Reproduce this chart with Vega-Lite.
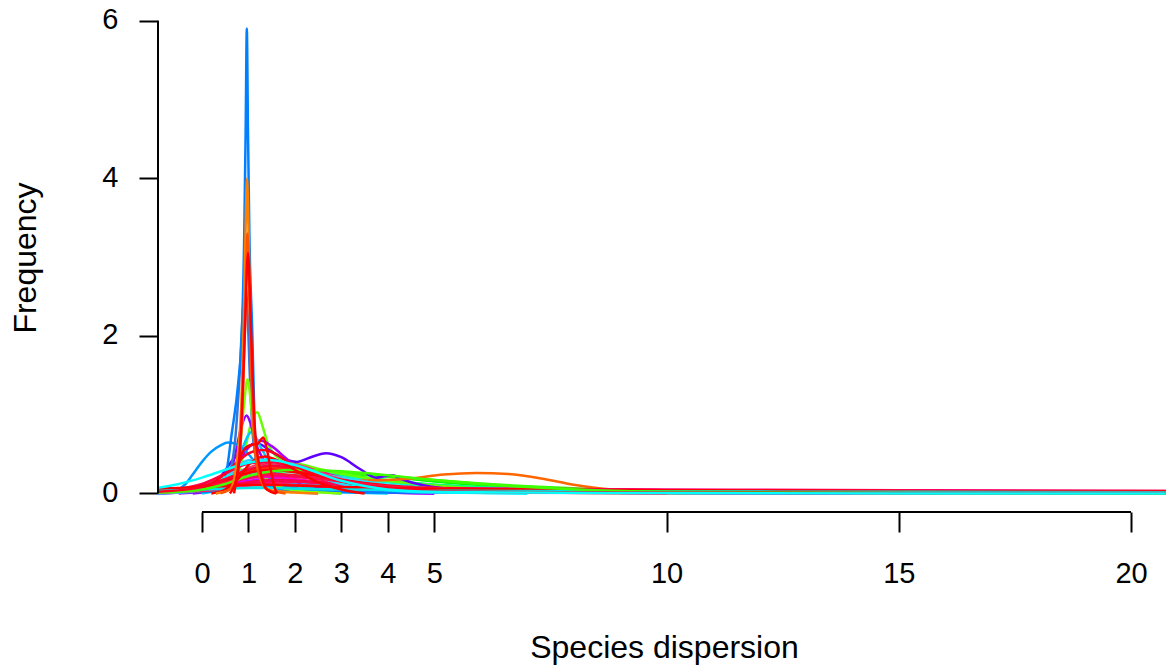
{
"$schema": "https://vega.github.io/schema/vega-lite/v6.json",
"width": 1008, "height": 502,
"autosize": {"type": "none"},
"padding": {"left": 158, "top": 10, "right": 0, "bottom": 156},
"background": "white",
"config": {"view": {"stroke": null}, "font": "Liberation Sans"},
"layer": [
{
"data": {"values": [
{"id":"s01","x":-0.95,"y":0.02},{"id":"s01","x":-0.5,"y":0.05},{"id":"s01","x":0,"y":0.1},{"id":"s01","x":0.5,"y":0.17},{"id":"s01","x":1,"y":0.26},{"id":"s01","x":1.5,"y":0.3},{"id":"s01","x":2,"y":0.3},{"id":"s01","x":3,"y":0.26},{"id":"s01","x":4,"y":0.21},{"id":"s01","x":5,"y":0.15},{"id":"s01","x":7,"y":0.07},{"id":"s01","x":10,"y":0.02},{"id":"s01","x":15,"y":0.005},{"id":"s01","x":20.75,"y":0},
{"id":"s02","x":-0.95,"y":0.01},{"id":"s02","x":-0.5,"y":0.03},{"id":"s02","x":0,"y":0.07},{"id":"s02","x":0.5,"y":0.14},{"id":"s02","x":1,"y":0.22},{"id":"s02","x":1.5,"y":0.27},{"id":"s02","x":2,"y":0.28},{"id":"s02","x":3,"y":0.26},{"id":"s02","x":4,"y":0.22},{"id":"s02","x":5,"y":0.17},{"id":"s02","x":7,"y":0.09},{"id":"s02","x":10,"y":0.03},{"id":"s02","x":15,"y":0.01},{"id":"s02","x":20.75,"y":0},
{"id":"s03","x":-0.95,"y":0.03},{"id":"s03","x":-0.5,"y":0.05},{"id":"s03","x":0,"y":0.09},{"id":"s03","x":0.5,"y":0.15},{"id":"s03","x":1,"y":0.21},{"id":"s03","x":1.5,"y":0.24},{"id":"s03","x":2,"y":0.23},{"id":"s03","x":3,"y":0.19},{"id":"s03","x":4,"y":0.15},{"id":"s03","x":5,"y":0.11},{"id":"s03","x":7,"y":0.06},{"id":"s03","x":10,"y":0.03},{"id":"s03","x":15,"y":0.01},{"id":"s03","x":20.75,"y":0.005},
{"id":"s04","x":-0.95,"y":0.01},{"id":"s04","x":-0.5,"y":0.02},{"id":"s04","x":0,"y":0.04},{"id":"s04","x":0.5,"y":0.07},{"id":"s04","x":1,"y":0.11},{"id":"s04","x":1.5,"y":0.13},{"id":"s04","x":2,"y":0.12},{"id":"s04","x":3,"y":0.09},{"id":"s04","x":4,"y":0.07},{"id":"s04","x":5,"y":0.05},{"id":"s04","x":7,"y":0.03},{"id":"s04","x":10,"y":0.02},{"id":"s04","x":15,"y":0.01},{"id":"s04","x":20.75,"y":0.01},
{"id":"s05","x":-0.95,"y":0.01},{"id":"s05","x":-0.5,"y":0.02},{"id":"s05","x":0,"y":0.05},{"id":"s05","x":0.5,"y":0.12},{"id":"s05","x":1,"y":0.2},{"id":"s05","x":1.5,"y":0.23},{"id":"s05","x":2,"y":0.2},{"id":"s05","x":3,"y":0.12},{"id":"s05","x":4,"y":0.06},{"id":"s05","x":5,"y":0.03},{"id":"s05","x":7,"y":0.01},{"id":"s05","x":10,"y":0},{"id":"s05","x":15,"y":0},{"id":"s05","x":20.75,"y":0},
{"id":"s06","x":-0.95,"y":0.01},{"id":"s06","x":-0.5,"y":0.02},{"id":"s06","x":0,"y":0.04},{"id":"s06","x":0.5,"y":0.09},{"id":"s06","x":1,"y":0.16},{"id":"s06","x":1.5,"y":0.19},{"id":"s06","x":2,"y":0.17},{"id":"s06","x":3,"y":0.11},{"id":"s06","x":4,"y":0.07},{"id":"s06","x":5,"y":0.04},{"id":"s06","x":7,"y":0.02},{"id":"s06","x":10,"y":0.01},{"id":"s06","x":15,"y":0},{"id":"s06","x":20.75,"y":0},
{"id":"s07","x":-0.95,"y":0},{"id":"s07","x":-0.5,"y":0.01},{"id":"s07","x":0,"y":0.03},{"id":"s07","x":0.5,"y":0.07},{"id":"s07","x":1,"y":0.12},{"id":"s07","x":1.5,"y":0.14},{"id":"s07","x":2,"y":0.13},{"id":"s07","x":3,"y":0.1},{"id":"s07","x":4,"y":0.07},{"id":"s07","x":5,"y":0.05},{"id":"s07","x":7,"y":0.04},{"id":"s07","x":10,"y":0.03},{"id":"s07","x":15,"y":0.02},{"id":"s07","x":20.75,"y":0.01},
{"id":"s08","x":-0.95,"y":0.01},{"id":"s08","x":-0.5,"y":0.02},{"id":"s08","x":0,"y":0.05},{"id":"s08","x":0.5,"y":0.1},{"id":"s08","x":1,"y":0.16},{"id":"s08","x":1.5,"y":0.18},{"id":"s08","x":2,"y":0.16},{"id":"s08","x":3,"y":0.1},{"id":"s08","x":4,"y":0.06},{"id":"s08","x":5,"y":0.05},{"id":"s08","x":7,"y":0.04},{"id":"s08","x":10,"y":0.03},{"id":"s08","x":15,"y":0.01},{"id":"s08","x":20.75,"y":0.005},
{"id":"s09","x":-0.95,"y":0.01},{"id":"s09","x":-0.5,"y":0.02},{"id":"s09","x":0,"y":0.04},{"id":"s09","x":0.5,"y":0.08},{"id":"s09","x":1,"y":0.13},{"id":"s09","x":1.5,"y":0.15},{"id":"s09","x":2,"y":0.14},{"id":"s09","x":3,"y":0.1},{"id":"s09","x":4,"y":0.07},{"id":"s09","x":5,"y":0.05},{"id":"s09","x":7,"y":0.04},{"id":"s09","x":10,"y":0.03},{"id":"s09","x":15,"y":0.02},{"id":"s09","x":20.75,"y":0.01},
{"id":"s10","x":-0.95,"y":0.03},{"id":"s10","x":-0.5,"y":0.05},{"id":"s10","x":0,"y":0.1},{"id":"s10","x":0.5,"y":0.2},{"id":"s10","x":1,"y":0.32},{"id":"s10","x":1.5,"y":0.36},{"id":"s10","x":2,"y":0.33},{"id":"s10","x":3,"y":0.22},{"id":"s10","x":4,"y":0.14},{"id":"s10","x":5,"y":0.08},{"id":"s10","x":7,"y":0.03},{"id":"s10","x":10,"y":0.015},{"id":"s10","x":15,"y":0.01},{"id":"s10","x":20.75,"y":0.005},
{"id":"s10a","x":-0.95,"y":0.02},{"id":"s10a","x":-0.5,"y":0.04},{"id":"s10a","x":0,"y":0.08},{"id":"s10a","x":0.5,"y":0.17},{"id":"s10a","x":1,"y":0.28},{"id":"s10a","x":1.5,"y":0.33},{"id":"s10a","x":2,"y":0.31},{"id":"s10a","x":3,"y":0.24},{"id":"s10a","x":4,"y":0.17},{"id":"s10a","x":5,"y":0.11},{"id":"s10a","x":7,"y":0.05},{"id":"s10a","x":10,"y":0.02},{"id":"s10a","x":15,"y":0.01},{"id":"s10a","x":20.75,"y":0},
{"id":"s11","x":-0.95,"y":0.01},{"id":"s11","x":-0.5,"y":0.02},{"id":"s11","x":0,"y":0.04},{"id":"s11","x":0.5,"y":0.07},{"id":"s11","x":1,"y":0.1},{"id":"s11","x":1.5,"y":0.1},{"id":"s11","x":2,"y":0.09},{"id":"s11","x":3,"y":0.06},{"id":"s11","x":4,"y":0.04},{"id":"s11","x":5,"y":0.03},{"id":"s11","x":7,"y":0.025},{"id":"s11","x":10,"y":0.02},{"id":"s11","x":15,"y":0.015},{"id":"s11","x":20.75,"y":0.01},
{"id":"s11a","x":-0.95,"y":0.03},{"id":"s11a","x":-0.5,"y":0.05},{"id":"s11a","x":0,"y":0.09},{"id":"s11a","x":0.5,"y":0.16},{"id":"s11a","x":1,"y":0.25},{"id":"s11a","x":1.5,"y":0.29},{"id":"s11a","x":2,"y":0.27},{"id":"s11a","x":3,"y":0.17},{"id":"s11a","x":4,"y":0.09},{"id":"s11a","x":5,"y":0.05},{"id":"s11a","x":7,"y":0.02},{"id":"s11a","x":10,"y":0.01},{"id":"s11a","x":15,"y":0.005},{"id":"s11a","x":20.75,"y":0},
{"id":"s12","x":-0.95,"y":0.01},{"id":"s12","x":0,"y":0.03},{"id":"s12","x":0.5,"y":0.08},{"id":"s12","x":0.8,"y":0.3},{"id":"s12","x":0.95,"y":0.62},{"id":"s12","x":1.05,"y":0.88},{"id":"s12","x":1.19,"y":1.03},{"id":"s12","x":1.3,"y":0.86},{"id":"s12","x":1.4,"y":0.66},{"id":"s12","x":1.55,"y":0.5},{"id":"s12","x":1.8,"y":0.41},{"id":"s12","x":2.2,"y":0.36},{"id":"s12","x":2.6,"y":0.3},{"id":"s12","x":3.2,"y":0.23},{"id":"s12","x":4,"y":0.16},{"id":"s12","x":5,"y":0.1},{"id":"s12","x":6,"y":0.06},{"id":"s12","x":8,"y":0.03},{"id":"s12","x":10,"y":0.015},{"id":"s12","x":15,"y":0.005},{"id":"s12","x":20.75,"y":0},
{"id":"s13","x":-0.95,"y":0},{"id":"s13","x":-0.3,"y":0.02},{"id":"s13","x":0.3,"y":0.15},{"id":"s13","x":0.7,"y":0.45},{"id":"s13","x":1.0,"y":0.6},{"id":"s13","x":1.2,"y":0.63},{"id":"s13","x":1.5,"y":0.53},{"id":"s13","x":1.8,"y":0.43},{"id":"s13","x":2.05,"y":0.4},{"id":"s13","x":2.3,"y":0.45},{"id":"s13","x":2.67,"y":0.51},{"id":"s13","x":3.0,"y":0.46},{"id":"s13","x":3.4,"y":0.31},{"id":"s13","x":3.76,"y":0.2},{"id":"s13","x":3.95,"y":0.22},{"id":"s13","x":4.1,"y":0.23},{"id":"s13","x":4.3,"y":0.18},{"id":"s13","x":4.8,"y":0.1},{"id":"s13","x":5.5,"y":0.05},{"id":"s13","x":7,"y":0.02},{"id":"s13","x":10,"y":0.005},{"id":"s13","x":14,"y":0},
{"id":"s14","x":-0.5,"y":0},{"id":"s14","x":0.3,"y":0.05},{"id":"s14","x":0.7,"y":0.3},{"id":"s14","x":1.0,"y":0.58},{"id":"s14","x":1.25,"y":0.67},{"id":"s14","x":1.5,"y":0.6},{"id":"s14","x":1.8,"y":0.45},{"id":"s14","x":2.2,"y":0.25},{"id":"s14","x":2.6,"y":0.12},{"id":"s14","x":3.2,"y":0.04},{"id":"s14","x":4,"y":0.01},{"id":"s14","x":5,"y":0},
{"id":"s15","x":-0.2,"y":0},{"id":"s15","x":0.3,"y":0.04},{"id":"s15","x":0.5,"y":0.1},{"id":"s15","x":0.7,"y":0.45},{"id":"s15","x":0.85,"y":0.85},{"id":"s15","x":0.96,"y":0.99},{"id":"s15","x":1.05,"y":0.88},{"id":"s15","x":1.15,"y":0.65},{"id":"s15","x":1.3,"y":0.45},{"id":"s15","x":1.5,"y":0.3},{"id":"s15","x":1.8,"y":0.18},{"id":"s15","x":2.2,"y":0.1},{"id":"s15","x":3,"y":0.04},{"id":"s15","x":4,"y":0.01},{"id":"s15","x":5,"y":0},
{"id":"s16","x":0,"y":0},{"id":"s16","x":0.4,"y":0.05},{"id":"s16","x":0.6,"y":0.2},{"id":"s16","x":0.85,"y":0.55},{"id":"s16","x":1.07,"y":0.78},{"id":"s16","x":1.25,"y":0.6},{"id":"s16","x":1.5,"y":0.35},{"id":"s16","x":1.9,"y":0.15},{"id":"s16","x":2.5,"y":0.05},{"id":"s16","x":3.2,"y":0.01},{"id":"s16","x":4,"y":0},
{"id":"s17","x":-0.6,"y":0},{"id":"s17","x":-0.5,"y":0.05},{"id":"s17","x":-0.35,"y":0.12},{"id":"s17","x":-0.2,"y":0.24},{"id":"s17","x":0,"y":0.4},{"id":"s17","x":0.2,"y":0.53},{"id":"s17","x":0.4,"y":0.61},{"id":"s17","x":0.56,"y":0.645},{"id":"s17","x":0.72,"y":0.63},{"id":"s17","x":0.85,"y":0.58},{"id":"s17","x":1.0,"y":0.5},{"id":"s17","x":1.2,"y":0.35},{"id":"s17","x":1.5,"y":0.18},{"id":"s17","x":2,"y":0.07},{"id":"s17","x":2.5,"y":0.02},{"id":"s17","x":3,"y":0},
{"id":"s18","x":0.3,"y":0},{"id":"s18","x":0.5,"y":0.1},{"id":"s18","x":0.7,"y":0.6},{"id":"s18","x":0.8,"y":1.4},{"id":"s18","x":0.87,"y":2.2},{"id":"s18","x":0.93,"y":2.65},{"id":"s18","x":0.98,"y":2.3},{"id":"s18","x":1.03,"y":1.5},{"id":"s18","x":1.1,"y":0.7},{"id":"s18","x":1.25,"y":0.25},{"id":"s18","x":1.5,"y":0.08},{"id":"s18","x":2,"y":0.02},{"id":"s18","x":2.5,"y":0},
{"id":"s19","x":-0.95,"y":0.01},{"id":"s19","x":0,"y":0.02},{"id":"s19","x":0.3,"y":0.03},{"id":"s19","x":0.5,"y":0.2},{"id":"s19","x":0.64,"y":0.76},{"id":"s19","x":0.78,"y":1.4},{"id":"s19","x":0.855,"y":2.0},{"id":"s19","x":0.91,"y":3.3},{"id":"s19","x":0.94,"y":4.6},{"id":"s19","x":0.965,"y":5.9},{"id":"s19","x":0.99,"y":4.6},{"id":"s19","x":1.02,"y":3.3},{"id":"s19","x":1.085,"y":2.0},{"id":"s19","x":1.11,"y":1.4},{"id":"s19","x":1.14,"y":0.76},{"id":"s19","x":1.25,"y":0.3},{"id":"s19","x":1.4,"y":0.1},{"id":"s19","x":2,"y":0.04},{"id":"s19","x":4,"y":0.01},{"id":"s19","x":10,"y":0.005},{"id":"s19","x":20.75,"y":0},
{"id":"s20","x":0.3,"y":0},{"id":"s20","x":0.6,"y":0.1},{"id":"s20","x":0.8,"y":0.5},{"id":"s20","x":0.9,"y":1.1},{"id":"s20","x":0.98,"y":1.45},{"id":"s20","x":1.06,"y":1.1},{"id":"s20","x":1.15,"y":0.55},{"id":"s20","x":1.3,"y":0.25},{"id":"s20","x":1.6,"y":0.1},{"id":"s20","x":2.0,"y":0.04},{"id":"s20","x":2.6,"y":0.01},{"id":"s20","x":3,"y":0},
{"id":"s21","x":-0.95,"y":0.01},{"id":"s21","x":0,"y":0.05},{"id":"s21","x":1,"y":0.12},{"id":"s21","x":2,"y":0.15},{"id":"s21","x":3,"y":0.16},{"id":"s21","x":4,"y":0.17},{"id":"s21","x":4.5,"y":0.19},{"id":"s21","x":5.2,"y":0.24},{"id":"s21","x":5.9,"y":0.26},{"id":"s21","x":6.6,"y":0.245},{"id":"s21","x":7.3,"y":0.19},{"id":"s21","x":8,"y":0.11},{"id":"s21","x":8.5,"y":0.07},{"id":"s21","x":9,"y":0.045},{"id":"s21","x":10,"y":0.03},{"id":"s21","x":12,"y":0.02},{"id":"s21","x":15,"y":0.01},{"id":"s21","x":20.75,"y":0.005},
{"id":"s22","x":-0.95,"y":0.02},{"id":"s22","x":-0.5,"y":0.03},{"id":"s22","x":0,"y":0.06},{"id":"s22","x":0.5,"y":0.12},{"id":"s22","x":1,"y":0.19},{"id":"s22","x":1.5,"y":0.21},{"id":"s22","x":2,"y":0.18},{"id":"s22","x":3,"y":0.11},{"id":"s22","x":4,"y":0.06},{"id":"s22","x":5,"y":0.04},{"id":"s22","x":7,"y":0.03},{"id":"s22","x":10,"y":0.03},{"id":"s22","x":15,"y":0.02},{"id":"s22","x":20.75,"y":0.01},
{"id":"s23","x":-0.95,"y":0.02},{"id":"s23","x":-0.5,"y":0.03},{"id":"s23","x":0,"y":0.05},{"id":"s23","x":0.5,"y":0.08},{"id":"s23","x":1,"y":0.12},{"id":"s23","x":1.5,"y":0.15},{"id":"s23","x":2,"y":0.15},{"id":"s23","x":3,"y":0.12},{"id":"s23","x":4,"y":0.09},{"id":"s23","x":5,"y":0.07},{"id":"s23","x":7,"y":0.06},{"id":"s23","x":10,"y":0.05},{"id":"s23","x":15,"y":0.04},{"id":"s23","x":20.75,"y":0.03},
{"id":"s24","x":-0.95,"y":0.01},{"id":"s24","x":-0.5,"y":0.02},{"id":"s24","x":0,"y":0.03},{"id":"s24","x":0.5,"y":0.06},{"id":"s24","x":1,"y":0.1},{"id":"s24","x":1.5,"y":0.12},{"id":"s24","x":2,"y":0.11},{"id":"s24","x":3,"y":0.08},{"id":"s24","x":4,"y":0.06},{"id":"s24","x":5,"y":0.05},{"id":"s24","x":7,"y":0.04},{"id":"s24","x":10,"y":0.04},{"id":"s24","x":15,"y":0.03},{"id":"s24","x":20.75,"y":0.02},
{"id":"s25","x":-0.95,"y":0.03},{"id":"s25","x":-0.5,"y":0.04},{"id":"s25","x":0,"y":0.07},{"id":"s25","x":0.5,"y":0.12},{"id":"s25","x":1,"y":0.2},{"id":"s25","x":1.5,"y":0.23},{"id":"s25","x":2,"y":0.21},{"id":"s25","x":3,"y":0.15},{"id":"s25","x":4,"y":0.1},{"id":"s25","x":5,"y":0.07},{"id":"s25","x":7,"y":0.05},{"id":"s25","x":10,"y":0.04},{"id":"s25","x":15,"y":0.03},{"id":"s25","x":20.75,"y":0.02},
{"id":"s26","x":-0.95,"y":0.02},{"id":"s26","x":-0.5,"y":0.03},{"id":"s26","x":0,"y":0.05},{"id":"s26","x":0.5,"y":0.09},{"id":"s26","x":1,"y":0.14},{"id":"s26","x":1.5,"y":0.17},{"id":"s26","x":2,"y":0.16},{"id":"s26","x":3,"y":0.12},{"id":"s26","x":4,"y":0.09},{"id":"s26","x":5,"y":0.07},{"id":"s26","x":7,"y":0.05},{"id":"s26","x":10,"y":0.04},{"id":"s26","x":15,"y":0.03},{"id":"s26","x":20.75,"y":0.03},
{"id":"s27","x":-0.95,"y":0.04},{"id":"s27","x":-0.5,"y":0.05},{"id":"s27","x":0,"y":0.07},{"id":"s27","x":0.5,"y":0.1},{"id":"s27","x":1,"y":0.14},{"id":"s27","x":1.5,"y":0.16},{"id":"s27","x":2,"y":0.15},{"id":"s27","x":3,"y":0.11},{"id":"s27","x":4,"y":0.08},{"id":"s27","x":5,"y":0.06},{"id":"s27","x":7,"y":0.04},{"id":"s27","x":10,"y":0.03},{"id":"s27","x":15,"y":0.02},{"id":"s27","x":20.75,"y":0.01},
{"id":"s27a","x":-0.95,"y":0.02},{"id":"s27a","x":-0.5,"y":0.04},{"id":"s27a","x":0,"y":0.08},{"id":"s27a","x":0.5,"y":0.17},{"id":"s27a","x":1,"y":0.28},{"id":"s27a","x":1.5,"y":0.32},{"id":"s27a","x":2,"y":0.28},{"id":"s27a","x":3,"y":0.15},{"id":"s27a","x":4,"y":0.08},{"id":"s27a","x":5,"y":0.05},{"id":"s27a","x":7,"y":0.03},{"id":"s27a","x":10,"y":0.02},{"id":"s27a","x":15,"y":0.015},{"id":"s27a","x":20.75,"y":0.01},
{"id":"s27b","x":-0.95,"y":0.03},{"id":"s27b","x":-0.5,"y":0.05},{"id":"s27b","x":0,"y":0.1},{"id":"s27b","x":0.5,"y":0.2},{"id":"s27b","x":1,"y":0.32},{"id":"s27b","x":1.5,"y":0.37},{"id":"s27b","x":2,"y":0.32},{"id":"s27b","x":3,"y":0.16},{"id":"s27b","x":4,"y":0.07},{"id":"s27b","x":5,"y":0.04},{"id":"s27b","x":7,"y":0.02},{"id":"s27b","x":10,"y":0.01},{"id":"s27b","x":15,"y":0.01},{"id":"s27b","x":20.75,"y":0.005},
{"id":"s28","x":-0.95,"y":0.02},{"id":"s28","x":-0.5,"y":0.03},{"id":"s28","x":0,"y":0.06},{"id":"s28","x":0.5,"y":0.14},{"id":"s28","x":1,"y":0.27},{"id":"s28","x":1.5,"y":0.34},{"id":"s28","x":2,"y":0.34},{"id":"s28","x":3,"y":0.2},{"id":"s28","x":4,"y":0.1},{"id":"s28","x":5,"y":0.05},{"id":"s28","x":7,"y":0.02},{"id":"s28","x":10,"y":0.01},{"id":"s28","x":15,"y":0},{"id":"s28","x":20.75,"y":0},
{"id":"s29","x":-0.95,"y":0},{"id":"s29","x":-0.5,"y":0.01},{"id":"s29","x":0,"y":0.05},{"id":"s29","x":0.5,"y":0.2},{"id":"s29","x":1,"y":0.42},{"id":"s29","x":1.5,"y":0.43},{"id":"s29","x":2,"y":0.32},{"id":"s29","x":3,"y":0.12},{"id":"s29","x":4,"y":0.04},{"id":"s29","x":5,"y":0.01},{"id":"s29","x":7,"y":0},
{"id":"s30","x":-0.95,"y":0.02},{"id":"s30","x":-0.5,"y":0.04},{"id":"s30","x":0,"y":0.09},{"id":"s30","x":0.5,"y":0.2},{"id":"s30","x":1,"y":0.31},{"id":"s30","x":1.5,"y":0.35},{"id":"s30","x":2,"y":0.3},{"id":"s30","x":3,"y":0.14},{"id":"s30","x":4,"y":0.05},{"id":"s30","x":5,"y":0.02},{"id":"s30","x":7,"y":0},
{"id":"s31a","x":-0.95,"y":0.01},{"id":"s31a","x":-0.5,"y":0.03},{"id":"s31a","x":0,"y":0.07},{"id":"s31a","x":0.5,"y":0.15},{"id":"s31a","x":1,"y":0.25},{"id":"s31a","x":1.5,"y":0.3},{"id":"s31a","x":2,"y":0.29},{"id":"s31a","x":3,"y":0.2},{"id":"s31a","x":4,"y":0.11},{"id":"s31a","x":5,"y":0.06},{"id":"s31a","x":7,"y":0.03},{"id":"s31a","x":10,"y":0.015},{"id":"s31a","x":15,"y":0.01},{"id":"s31a","x":20.75,"y":0.005},
{"id":"s32","x":-0.95,"y":0.02},{"id":"s32","x":-0.5,"y":0.04},{"id":"s32","x":0,"y":0.09},{"id":"s32","x":0.5,"y":0.18},{"id":"s32","x":1,"y":0.29},{"id":"s32","x":1.5,"y":0.33},{"id":"s32","x":2,"y":0.28},{"id":"s32","x":3,"y":0.16},{"id":"s32","x":4,"y":0.08},{"id":"s32","x":5,"y":0.04},{"id":"s32","x":7,"y":0.02},{"id":"s32","x":10,"y":0.01},{"id":"s32","x":15,"y":0.005},{"id":"s32","x":20.75,"y":0},
{"id":"s33","x":-0.95,"y":0.01},{"id":"s33","x":-0.5,"y":0.02},{"id":"s33","x":0,"y":0.05},{"id":"s33","x":0.5,"y":0.15},{"id":"s33","x":1,"y":0.32},{"id":"s33","x":1.5,"y":0.41},{"id":"s33","x":2,"y":0.37},{"id":"s33","x":3,"y":0.18},{"id":"s33","x":4,"y":0.08},{"id":"s33","x":5,"y":0.03},{"id":"s33","x":7,"y":0.01},{"id":"s33","x":10,"y":0},
{"id":"s34","x":-0.95,"y":0.04},{"id":"s34","x":-0.5,"y":0.06},{"id":"s34","x":0,"y":0.12},{"id":"s34","x":0.5,"y":0.25},{"id":"s34","x":1,"y":0.38},{"id":"s34","x":1.5,"y":0.4},{"id":"s34","x":2,"y":0.32},{"id":"s34","x":3,"y":0.15},{"id":"s34","x":4,"y":0.07},{"id":"s34","x":5,"y":0.04},{"id":"s34","x":7,"y":0.02},{"id":"s34","x":10,"y":0.01},{"id":"s34","x":15,"y":0.01},{"id":"s34","x":20.75,"y":0.005},
{"id":"s35","x":-0.95,"y":0.05},{"id":"s35","x":-0.5,"y":0.06},{"id":"s35","x":0,"y":0.09},{"id":"s35","x":0.5,"y":0.16},{"id":"s35","x":1,"y":0.26},{"id":"s35","x":1.5,"y":0.3},{"id":"s35","x":2,"y":0.27},{"id":"s35","x":3,"y":0.17},{"id":"s35","x":4,"y":0.1},{"id":"s35","x":5,"y":0.06},{"id":"s35","x":7,"y":0.04},{"id":"s35","x":10,"y":0.03},{"id":"s35","x":15,"y":0.025},{"id":"s35","x":20.75,"y":0.02},
{"id":"s35a","x":-0.95,"y":0.03},{"id":"s35a","x":-0.5,"y":0.05},{"id":"s35a","x":0,"y":0.09},{"id":"s35a","x":0.5,"y":0.18},{"id":"s35a","x":1,"y":0.3},{"id":"s35a","x":1.5,"y":0.35},{"id":"s35a","x":2,"y":0.31},{"id":"s35a","x":3,"y":0.17},{"id":"s35a","x":4,"y":0.09},{"id":"s35a","x":5,"y":0.05},{"id":"s35a","x":7,"y":0.03},{"id":"s35a","x":10,"y":0.02},{"id":"s35a","x":15,"y":0.015},{"id":"s35a","x":20.75,"y":0.01},
{"id":"s35b","x":-0.95,"y":0.02},{"id":"s35b","x":-0.5,"y":0.04},{"id":"s35b","x":0,"y":0.08},{"id":"s35b","x":0.5,"y":0.14},{"id":"s35b","x":1,"y":0.22},{"id":"s35b","x":1.5,"y":0.25},{"id":"s35b","x":2,"y":0.23},{"id":"s35b","x":3,"y":0.15},{"id":"s35b","x":4,"y":0.09},{"id":"s35b","x":5,"y":0.06},{"id":"s35b","x":7,"y":0.04},{"id":"s35b","x":10,"y":0.03},{"id":"s35b","x":15,"y":0.02},{"id":"s35b","x":20.75,"y":0.02},
{"id":"s36","x":-0.95,"y":0.06},{"id":"s36","x":-0.5,"y":0.07},{"id":"s36","x":0,"y":0.08},{"id":"s36","x":0.5,"y":0.1},{"id":"s36","x":1,"y":0.11},{"id":"s36","x":1.5,"y":0.11},{"id":"s36","x":2,"y":0.1},{"id":"s36","x":3,"y":0.08},{"id":"s36","x":4,"y":0.07},{"id":"s36","x":5,"y":0.06},{"id":"s36","x":7,"y":0.05},{"id":"s36","x":10,"y":0.04},{"id":"s36","x":15,"y":0.03},{"id":"s36","x":20.75,"y":0.02},
{"id":"s36a","x":-0.95,"y":0.03},{"id":"s36a","x":-0.5,"y":0.04},{"id":"s36a","x":0,"y":0.05},{"id":"s36a","x":0.5,"y":0.06},{"id":"s36a","x":1,"y":0.07},{"id":"s36a","x":1.5,"y":0.07},{"id":"s36a","x":2,"y":0.06},{"id":"s36a","x":3,"y":0.05},{"id":"s36a","x":4,"y":0.04},{"id":"s36a","x":5,"y":0.035},{"id":"s36a","x":7,"y":0.03},{"id":"s36a","x":10,"y":0.025},{"id":"s36a","x":15,"y":0.02},{"id":"s36a","x":20.75,"y":0.015},
{"id":"s36b","x":-0.95,"y":0.01},{"id":"s36b","x":-0.5,"y":0.02},{"id":"s36b","x":0,"y":0.05},{"id":"s36b","x":0.5,"y":0.12},{"id":"s36b","x":1,"y":0.22},{"id":"s36b","x":1.5,"y":0.28},{"id":"s36b","x":2,"y":0.3},{"id":"s36b","x":3,"y":0.28},{"id":"s36b","x":4,"y":0.23},{"id":"s36b","x":5,"y":0.17},{"id":"s36b","x":7,"y":0.08},{"id":"s36b","x":10,"y":0.02},{"id":"s36b","x":15,"y":0.005},{"id":"s36b","x":20.75,"y":0},
{"id":"s37","x":-0.95,"y":0.02},{"id":"s37","x":0,"y":0.08},{"id":"s37","x":0.5,"y":0.25},{"id":"s37","x":0.8,"y":0.42},{"id":"s37","x":1.05,"y":0.52},{"id":"s37","x":1.3,"y":0.55},{"id":"s37","x":1.6,"y":0.5},{"id":"s37","x":1.9,"y":0.38},{"id":"s37","x":2.3,"y":0.27},{"id":"s37","x":2.9,"y":0.17},{"id":"s37","x":3.5,"y":0.1},{"id":"s37","x":4.5,"y":0.05},{"id":"s37","x":6,"y":0.02},{"id":"s37","x":9,"y":0.01},{"id":"s37","x":20.75,"y":0.005},
{"id":"s38","x":0.2,"y":0},{"id":"s38","x":0.5,"y":0.05},{"id":"s38","x":0.8,"y":0.2},{"id":"s38","x":1.0,"y":0.36},{"id":"s38","x":1.35,"y":0.47},{"id":"s38","x":1.7,"y":0.4},{"id":"s38","x":2.0,"y":0.3},{"id":"s38","x":2.5,"y":0.14},{"id":"s38","x":3,"y":0.05},{"id":"s38","x":3.5,"y":0},
{"id":"s38a","x":-0.95,"y":0.07},{"id":"s38a","x":-0.5,"y":0.12},{"id":"s38a","x":0,"y":0.2},{"id":"s38a","x":0.5,"y":0.3},{"id":"s38a","x":1,"y":0.39},{"id":"s38a","x":1.5,"y":0.42},{"id":"s38a","x":2,"y":0.36},{"id":"s38a","x":3,"y":0.16},{"id":"s38a","x":4,"y":0.05},{"id":"s38a","x":5,"y":0.02},{"id":"s38a","x":7,"y":0.01},{"id":"s38a","x":10,"y":0.005},{"id":"s38a","x":15,"y":0},{"id":"s38a","x":20.75,"y":0},
{"id":"s39","x":0.3,"y":0},{"id":"s39","x":0.6,"y":0.05},{"id":"s39","x":0.75,"y":0.4},{"id":"s39","x":0.85,"y":1.2},{"id":"s39","x":0.9,"y":2.2},{"id":"s39","x":0.94,"y":3.4},{"id":"s39","x":0.97,"y":4.0},{"id":"s39","x":1.0,"y":3.4},{"id":"s39","x":1.04,"y":2.2},{"id":"s39","x":1.09,"y":1.2},{"id":"s39","x":1.2,"y":0.4},{"id":"s39","x":1.4,"y":0.05},{"id":"s39","x":2,"y":0.01},{"id":"s39","x":2.5,"y":0},
{"id":"s40","x":0.4,"y":0},{"id":"s40","x":0.7,"y":0.1},{"id":"s40","x":0.85,"y":0.8},{"id":"s40","x":0.92,"y":2.0},{"id":"s40","x":0.98,"y":3.3},{"id":"s40","x":1.03,"y":2.2},{"id":"s40","x":1.1,"y":0.9},{"id":"s40","x":1.2,"y":0.3},{"id":"s40","x":1.4,"y":0.05},{"id":"s40","x":1.8,"y":0},
{"id":"s41","x":0.69,"y":0},{"id":"s41","x":0.75,"y":0.2},{"id":"s41","x":0.82,"y":0.45},{"id":"s41","x":0.95,"y":0.58},{"id":"s41","x":1.1,"y":0.62},{"id":"s41","x":1.2,"y":0.63},{"id":"s41","x":1.32,"y":0.71},{"id":"s41","x":1.4,"y":0.55},{"id":"s41","x":1.48,"y":0.3},{"id":"s41","x":1.56,"y":0.08},{"id":"s41","x":1.62,"y":0},
{"id":"s42","x":0.6,"y":0},{"id":"s42","x":0.75,"y":0.2},{"id":"s42","x":0.85,"y":0.9},{"id":"s42","x":0.92,"y":2.0},{"id":"s42","x":0.99,"y":3.05},{"id":"s42","x":1.06,"y":2.0},{"id":"s42","x":1.13,"y":0.9},{"id":"s42","x":1.25,"y":0.3},{"id":"s42","x":1.4,"y":0.05},{"id":"s42","x":1.6,"y":0}
]},
"mark": {"type": "line", "interpolate": "monotone", "clip": true, "strokeWidth": 2.5},
"encoding": {
"x": {"field": "x", "type": "quantitative",
 "scale": {"domain": [-0.947, 20.753], "nice": false, "zero": false},
 "axis": {"values": [0,1,2,3,4,5,10,15,20], "grid": false, "domain": false,
  "tickSize": 20, "tickWidth": 2, "tickColor": "black",
  "labelFontSize": 29, "labelFont": "Liberation Sans", "labelColor": "black",
  "labelPadding": 50, "labelBaseline": "alphabetic", "labelFlush": false, "labelOverlap": false,
  "title": "Species dispersion", "titleFontSize": 32, "titleFont": "Liberation Sans", "titleFontWeight": "normal",
  "titleColor": "black", "titleX": 506, "titleY": 145, "titleBaseline": "alphabetic", "titleAlign": "center"}},
"y": {"field": "y", "type": "quantitative",
 "scale": {"domain": [-0.236, 6.136], "nice": false, "zero": false},
 "axis": {"values": [0,2,4,6], "format": "d", "grid": false, "domain": false,
  "tickSize": 19, "tickWidth": 2, "tickColor": "black",
  "labelFontSize": 29, "labelFont": "Liberation Sans", "labelColor": "black",
  "labelPadding": 21, "labelBaseline": "middle", "labelAlign": "right", "labelFlush": false, "labelOverlap": false, "labelOffset": -1,
  "title": "Frequency", "titleFontSize": 32, "titleFont": "Liberation Sans", "titleFontWeight": "normal",
  "titleColor": "black", "titleX": -123, "titleY": 247.5, "titleAngle": 270, "titleBaseline": "alphabetic", "titleAlign": "center"}},
"color": {"field": "id", "type": "nominal", "legend": null,
 "scale": {"domain": ["s01","s02","s03","s04","s05","s06","s07","s08","s09","s10","s10a","s11","s11a","s12","s13","s14","s15","s16","s17","s18","s19","s20","s21","s22","s23","s24","s25","s26","s27","s27a","s27b","s28","s29","s30","s31a","s32","s33","s34","s35","s35a","s35b","s36","s36a","s36b","s37","s38","s38a","s39","s40","s41","s42"],
  "range": ["#00FF00","#33FF00","#00FF66","#00FF99","#FFCC00","#FF9900","#9900FF","#CC00FF","#00E5FF","#00FFCC","#00FF80","#00CCCC","#00FFE0","#66FF00","#6000FF","#AA00FF","#9900FF","#00CCFF","#0099FF","#3377DD","#0080FF","#80FF00","#FF6600","#FF00CC","#FF0080","#FF1A66","#FF0066","#FF0033","#FF0050","#FF0070","#FF2050","#FF0099","#33CCFF","#00FFFF","#20E0FF","#FF3300","#FF3366","#FF0040","#FF0000","#FF0030","#FF1040","#FF0000","#00E5E5","#40FF00","#FF0020","#FF0000","#00FFFF","#FF8000","#FF5500","#FF0000","#FF0000"]}}
}
},
{
"data": {"values": [{}]},
"mark": {"type": "rule", "color": "black", "strokeWidth": 2},
"encoding": {"x": {"datum": -0.947, "type": "quantitative"}, "y": {"datum": 0, "type": "quantitative"}, "y2": {"datum": 6}}
},
{
"data": {"values": [{}]},
"mark": {"type": "rule", "color": "black", "strokeWidth": 2},
"encoding": {"x": {"datum": 0, "type": "quantitative"}, "x2": {"datum": 20}, "y": {"datum": -0.236, "type": "quantitative"}}
}
]
}
